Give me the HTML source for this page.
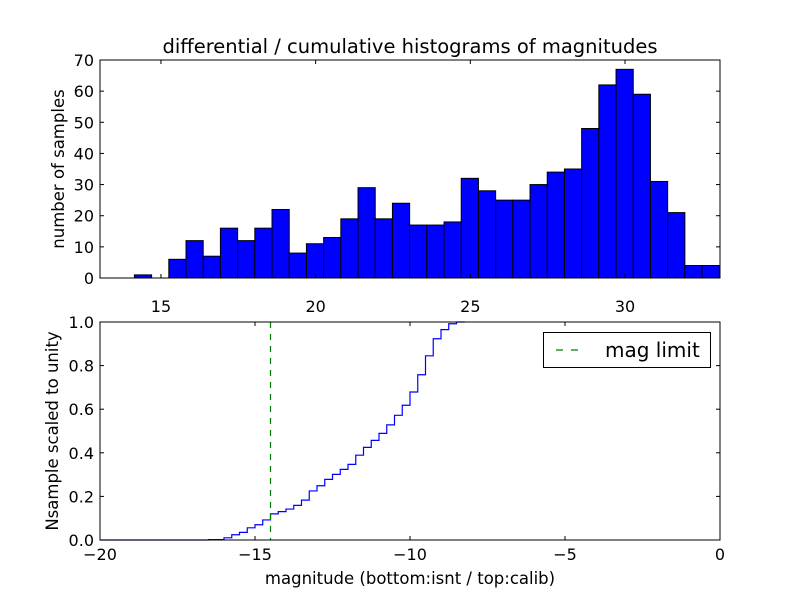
<!DOCTYPE html>
<html><head><meta charset="utf-8"><style>
body{margin:0;background:#fff;}
svg{display:block;font-family:"DejaVu Sans","Liberation Sans",sans-serif;}
</style></head><body>
<svg id="chart" width="800" height="600" xmlns="http://www.w3.org/2000/svg">
<rect width="800" height="600" fill="#fff"/>
</svg>
<script>
// top histogram data
const topBinStart = 13.03;
const topBinWidth = 0.556;
const topCounts = [0,0,1,0,6,12,7,16,12,16,22,8,11,13,19,29,19,24,17,17,18,32,28,25,25,30,34,35,48,62,67,59,31,21,4,4];
const topXTicks = [15,20,25,30];
const topYTicks = [0,10,20,30,40,50,60,70];
// bottom cumulative data
const cumStart = -16.5;
const cumStep = 0.25;
const cumValues = [0.002,0.002,0.01,0.024,0.035,0.056,0.07,0.092,0.12,0.13,0.142,0.159,0.183,0.225,0.249,0.278,0.301,0.324,0.347,0.389,0.425,0.457,0.489,0.528,0.572,0.618,0.679,0.758,0.845,0.923,0.965,0.992,1.0];
const cumEnd = -8.23;
const magLimit = [-14.5];
const botXTicks = [-20,-15,-10,-5,0];
const botYTicks = [0.0,0.2,0.4,0.6,0.8,1.0];

const NS="http://www.w3.org/2000/svg";
const svg=document.getElementById('chart');
function mk(tag,attrs,parent){const e=document.createElementNS(NS,tag);for(const k in attrs)e.setAttribute(k,attrs[k]);(parent||svg).appendChild(e);return e;}
function txt(s,x,y,size,anchor,parent){const t=mk('text',{x:x,y:y,'font-size':size,'text-anchor':anchor||'middle',fill:'#000'},parent);t.textContent=s;return t;}
const TS=16;

// ---- top axes ----
const L=100,R=720,T1=60,B1=278;
const tx0=13.03, tx1=33.07;
const xT=v=>L+(v-tx0)/(tx1-tx0)*(R-L);
const yT=v=>B1-v/70*(B1-T1);
const gTop=mk('g',{});


topCounts.forEach((c,i)=>{
  const x0=xT(topBinStart+i*topBinWidth), x1=xT(topBinStart+(i+1)*topBinWidth);
  const r=mk('rect',{x:x0,y:yT(c),width:x1-x0,height:yT(0)-yT(c),fill:'#0000ff',stroke:'#000','stroke-width':1},gTop);
  
  
});
const fTop=mk('rect',{x:L,y:T1,width:R-L,height:B1-T1,fill:'none',stroke:'#000','stroke-width':1});


topXTicks.forEach(v=>{
  const x=xT(v);
  mk('line',{x1:x,x2:x,y1:B1,y2:B1-4,stroke:'#000'});
  mk('line',{x1:x,x2:x,y1:T1,y2:T1+4,stroke:'#000'});
  const t=txt(String(v),x,312,TS);
  
  
});
topYTicks.forEach(v=>{
  const y=yT(v);
  mk('line',{x1:L,x2:L+4,y1:y,y2:y,stroke:'#000'});
  mk('line',{x1:R,x2:R-4,y1:y,y2:y,stroke:'#000'});
  const t=txt(String(v),L-6,y+6,TS,'end');
  
  
});
let tt=txt('differential / cumulative histograms of magnitudes',410,53,19.5);


let yl=txt('number of samples',0,0,16.5);
yl.setAttribute('transform','translate(64,169) rotate(-90)');



// ---- bottom axes ----
const T2=322,B2=540;
const xB=v=>L+(v+20)/20*(R-L);
const yB=v=>B2-v*(B2-T2);
let d='M'+L+','+yB(0)+' H'+xB(cumStart);
cumValues.forEach((v,i)=>{d+=' V'+yB(v)+' H'+(i<cumValues.length-1?xB(cumStart+(i+1)*cumStep):xB(cumEnd));});
const cl=mk('path',{d:d,fill:'none',stroke:'#0000ff','stroke-width':1.2});


magLimit.forEach(v=>{
  const ml=mk('line',{x1:xB(v),x2:xB(v),y1:T2,y2:B2,stroke:'#007f00','stroke-width':1.2,'stroke-dasharray':'6,6'});
  
  
});
const fBot=mk('rect',{x:L,y:T2,width:R-L,height:B2-T2,fill:'none',stroke:'#000','stroke-width':1});


botXTicks.forEach(v=>{
  const x=xB(v);
  mk('line',{x1:x,x2:x,y1:B2,y2:B2-4,stroke:'#000'});
  mk('line',{x1:x,x2:x,y1:T2,y2:T2+4,stroke:'#000'});
  const t=txt('\u2212'.repeat(v<0?1:0)+Math.abs(v),x,560,TS);
  
  
});
botYTicks.forEach(v=>{
  const y=yB(v);
  mk('line',{x1:L,x2:L+4,y1:y,y2:y,stroke:'#000'});
  mk('line',{x1:R,x2:R-4,y1:y,y2:y,stroke:'#000'});
  const t=txt(v.toFixed(1),L-6,y+6,TS,'end');
  
  
});
let xl=txt('magnitude (bottom:isnt / top:calib)',410,584,16.5);


let yl2=txt('Nsample scaled to unity',0,0,16.5);
yl2.setAttribute('transform','translate(58,431) rotate(-90)');



// legend
const lg=mk('g',{});


mk('rect',{x:543.5,y:332.5,width:167,height:35,fill:'#fff',stroke:'#000'},lg);
mk('line',{x1:556,x2:582,y1:350,y2:350,stroke:'#007f00','stroke-width':1.2,'stroke-dasharray':'7,8'},lg);
const lt=txt('mag limit',605,357,20,'start',lg);


</script>
</body></html>
